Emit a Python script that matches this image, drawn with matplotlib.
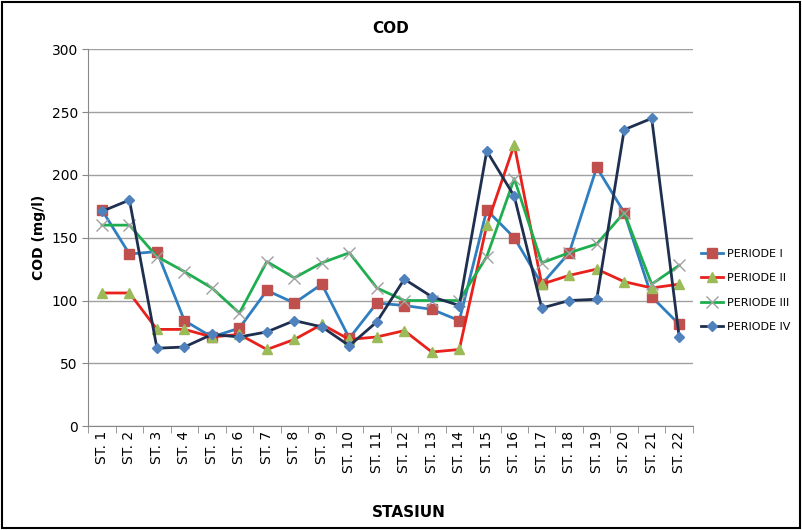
import matplotlib.pyplot as plt

stations = [f"ST. {i}" for i in range(1, 23)]
periode_1 = [172, 137, 139, 84, 71, 78, 108, 98, 113, 70, 98, 96, 93, 84, 172, 150, 113, 138, 206, 170, 103, 81]
periode_2 = [106, 106, 77, 77, 71, 73, 61, 69, 81, 69, 71, 76, 59, 61, 160, 224, 113, 120, 125, 115, 110, 113]
periode_3 = [160, 160, 135, 123, 110, 90, 131, 118, 130, 138, 110, 100, 100, 100, 135, 197, 130, 138, 145, 170, 113, 128]
periode_4 = [171, 180, 62, 63, 73, 71, 75, 84, 79, 64, 83, 117, 103, 96, 219, 183, 94, 100, 101, 236, 245, 71]

fig = plt.figure(figsize=(8.02, 5.30), dpi=100)
ax = fig.add_axes([0.11, 0.196, 0.754, 0.711])
x = range(len(stations))

ax.plot(x, periode_1, color='#2E7EC0', marker='s', markersize=7, mfc='#C0504D', mec='#C0504D', lw=2, label='PERIODE I')
ax.plot(x, periode_2, color='#E8211C', marker='^', markersize=7, mfc='#9BBB59', mec='#9BBB59', lw=2, label='PERIODE II')
ax.plot(x, periode_3, color='#1FAE4F', marker='x', markersize=8, mec='#A0A0A0', mew=1, lw=2, label='PERIODE III')
ax.plot(x, periode_4, color='#1F2F4F', marker='D', markersize=5, mfc='#4F81BD', mec='#4F81BD', lw=2, label='PERIODE IV')

ax.set_ylim(0, 300)
ax.set_yticks(range(0, 301, 50))
ax.set_xlim(-0.5, len(stations) - 0.5)
ax.set_xticks(list(x))
ax.set_xticklabels(stations, rotation=90, fontsize=10)
ax.tick_params(axis='y', labelsize=10, length=4, color='#888888')
ax.tick_params(axis='x', length=0)
ax.set_xticks([i - 0.5 for i in range(len(stations) + 1)], minor=True)
ax.tick_params(axis='x', which='minor', length=5, color='#888888')
ax.grid(axis='y', color='#A0A0A0', lw=1)
ax.set_axisbelow(True)
for s in ['top', 'right']:
    ax.spines[s].set_visible(False)
for s in ['left', 'bottom']:
    ax.spines[s].set_color('#888888')

ax.set_title('COD', fontsize=11, fontweight='bold', pad=12)
ax.set_ylabel('COD (mg/l)', fontsize=10, fontweight='bold')
fig.text(0.51, 0.025, 'STASIUN', ha='center', fontsize=11, fontweight='bold')
ax.legend(loc='center left', bbox_to_anchor=(1.0, 0.36), frameon=False, fontsize=8,
          handlelength=2.0, handletextpad=0.4, borderaxespad=0.3, labelspacing=1.3)

border = plt.Rectangle((0.003, 0.003), 0.994, 0.994, transform=fig.transFigure, fill=False, ec='black', lw=1.5)
fig.patches.append(border)

fig.savefig('out.png', dpi=100)
